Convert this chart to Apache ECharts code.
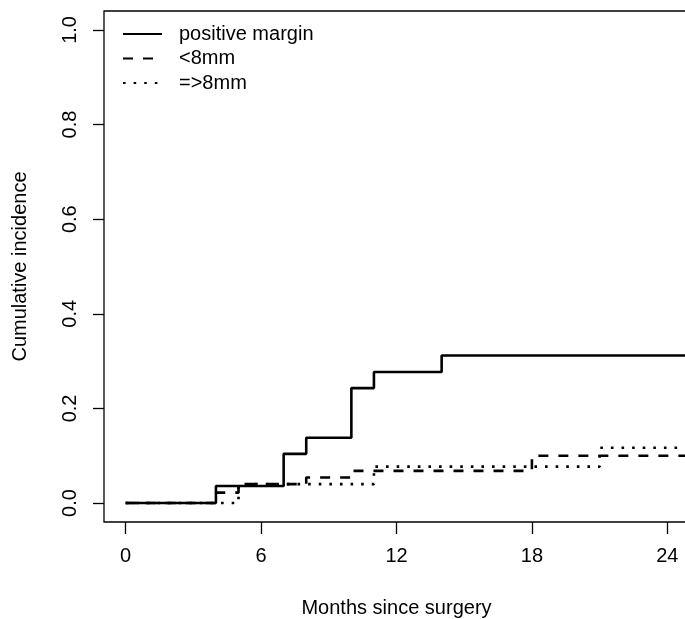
<!DOCTYPE html>
<html>
<head>
<meta charset="utf-8">
<script src="https://cdn.jsdelivr.net/npm/echarts@6/dist/echarts.min.js"></script>
<style>
  html, body { margin: 0; padding: 0; background: #fff; }
  #chart { width: 685px; height: 619px; }
</style>
</head>
<body>
<div id="chart"></div>
<script>
// step curves, value holds from each time until the next one
const posTimes = [0, 4, 7, 8, 10, 11, 14, 25];
const posValues = [0, 0.036, 0.104, 0.138, 0.243, 0.277, 0.312, 0.312];

const lt8Times = [0, 4, 5, 8, 10, 18, 25];
const lt8Values = [0, 0.022, 0.040, 0.054, 0.068, 0.100, 0.100];

const ge8Times = [0, 5, 11, 21, 25];
const ge8Values = [0, 0.040, 0.077, 0.117, 0.117];

const seriesNames = ['positive margin', '<8mm', '=>8mm'];
const xTicks = [0, 6, 12, 18, 24];
const yTicks = [0, 0.2, 0.4, 0.6, 0.8, 1.0];

const font = "'Liberation Sans', Arial, Helvetica, sans-serif";

function pairs(times, values) {
    return times.map((t, i) => [t, values[i]]);
}

let myChart = echarts.init(document.getElementById('chart'));

let option = {
    animation: false,
    textStyle: { fontFamily: font },
    grid: {
        show: true,
        left: 104,
        top: 11,
        width: 585,
        height: 511,
        containLabel: false,
        outerBoundsMode: 'none',
        borderColor: '#000',
        borderWidth: 1.3,
        backgroundColor: 'transparent'
    },
    legend: {
        left: 117,
        top: 19,
        orient: 'vertical',
        itemWidth: 39,
        itemHeight: 14,
        itemGap: 4.5,
        itemStyle: { color: 'transparent', borderColor: 'transparent', borderWidth: 0 },
        textStyle: { fontSize: 20, color: '#000', fontFamily: font, padding: [0, 0, 0, 12] },
        data: seriesNames
    },
    xAxis: {
        type: 'value',
        min: -0.96,
        max: 24.96,
        name: 'Months since surgery',
        nameLocation: 'middle',
        nameGap: 76,
        nameTextStyle: { fontSize: 20, color: '#000', fontFamily: font },
        splitLine: { show: false },
        axisLine: { show: false, onZero: false },
        axisTick: { show: true, length: 12, customValues: xTicks, lineStyle: { color: '#000', width: 1.3 } },
        axisLabel: { customValues: xTicks, margin: 24, fontSize: 20, color: '#000', fontFamily: font }
    },
    yAxis: {
        type: 'value',
        min: -0.04,
        max: 1.04,
        name: 'Cumulative incidence',
        nameLocation: 'middle',
        nameGap: 74,
        nameTextStyle: { fontSize: 20, color: '#000', fontFamily: font },
        splitLine: { show: false },
        axisLine: { show: false, onZero: false },
        axisTick: { show: true, length: 11, customValues: yTicks, lineStyle: { color: '#000', width: 1.3 } },
        axisLabel: {
            customValues: yTicks,
            rotate: 90,
            margin: 24,
            fontSize: 20,
            color: '#000',
            fontFamily: font,
            formatter: v => v.toFixed(1)
        }
    },
    series: [
        {
            name: seriesNames[0],
            type: 'line',
            step: 'end',
            symbol: 'none',
            data: pairs(posTimes, posValues),
            lineStyle: { color: '#000', width: 2.6, type: 'solid' },
            itemStyle: { color: '#000' }
        },
        {
            name: seriesNames[1],
            type: 'line',
            step: 'end',
            symbol: 'none',
            data: pairs(lt8Times, lt8Values),
            lineStyle: { color: '#000', width: 2.6, type: [10, 10], cap: 'butt' },
            itemStyle: { color: '#000' }
        },
        {
            name: seriesNames[2],
            type: 'line',
            step: 'end',
            symbol: 'none',
            data: pairs(ge8Times, ge8Values),
            lineStyle: { color: '#000', width: 2.6, type: [2.6, 8], cap: 'butt' },
            itemStyle: { color: '#000' }
        }
    ]
};

myChart.setOption(option);
</script>
</body>
</html>
